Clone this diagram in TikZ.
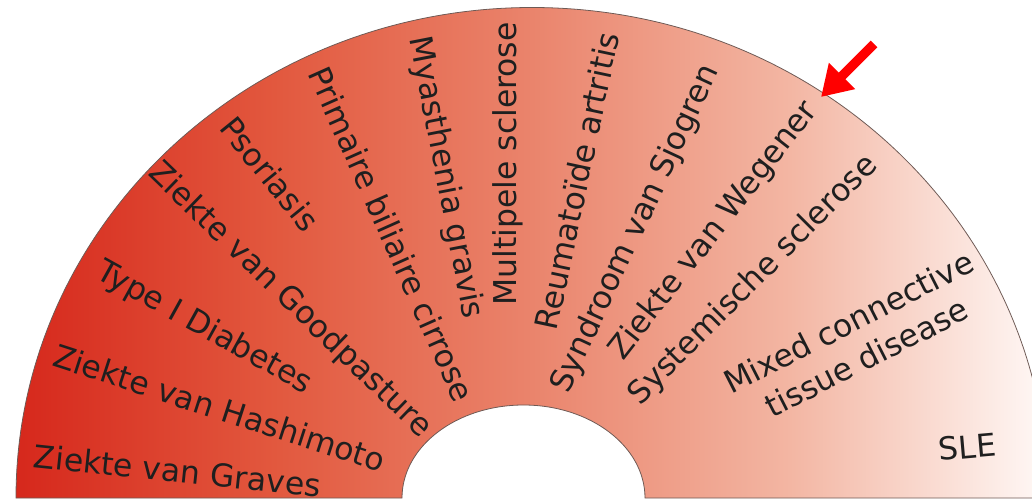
\documentclass[tikz,border=0pt]{standalone}
\usepackage{fontspec}
\setmainfont{DejaVu Sans}
\usetikzlibrary{arrows.meta}
\definecolor{AutoRed}{RGB}{214,40,28}
\definecolor{AutoRose}{RGB}{226,88,62}
\definecolor{AutoMid}{RGB}{234,132,108}
\definecolor{AutoPeach}{RGB}{243,182,163}
\definecolor{AutoWhite}{RGB}{255,249,247}
\definecolor{RimGray}{RGB}{110,90,85}
\definecolor{PointRed}{RGB}{255,0,0}
\pgfdeclarehorizontalshading{ringshade}{100bp}{color(0bp)=(AutoRed); color(25bp)=(AutoRed);
  color(37.5bp)=(AutoRose); color(50bp)=(AutoMid); color(62.5bp)=(AutoPeach);
  color(75bp)=(AutoWhite); color(100bp)=(AutoWhite)}
\tikzset{
  lab/.style={font=\fontsize{17.9}{22.5}\selectfont,text=black!88,inner sep=0pt,align=center,text height=0.73em,text depth=0pt},
  rim/.style={draw=RimGray,line width=0.45pt},
  pointer/.style={draw=PointRed,line width=5.3pt,-{Triangle[length=17pt,width=20pt]}},
}

\begin{document}
\begin{tikzpicture}[x=0.02cm,y=-0.02cm]
\useasboundingbox (0,0) rectangle (1032,501);
% half ring with the colour running from red to white
\path[rim,shading=ringshade,shading angle=0]
  (16,498) arc[start angle=180,end angle=360,x radius=516,y radius=490.5]
  -- (645,498) arc[start angle=360,end angle=180,x radius=121.5,y radius=93] -- cycle;
\begin{scope}
\clip (0,0) rectangle (1032,498);
\foreach \n/\x/\y/\a/\t in {
  graves/177/476/-6/Ziekte van Graves,
  hashimoto/218/413/-18/Ziekte van Hashimoto,
  diabetes/203/330/-29/Type I Diabetes,
  goodpasture/288/302/-44/Ziekte van Goodpasture,
  psoriasis/266/177/-51/Psoriasis,
  pbc/387/236/-66/Primaire biliaire cirrose,
  myasthenia/443/178/-79/Myasthenia gravis,
  ms/510/164/90/Multipele sclerose,
  ra/582/182/78/Reumatoïde artritis,
  sjogren/638/230/65/Syndroom van Sjogren,
  wegener/716/232/52/Ziekte van Wegener,
  ssc/755/282/45/Systemische sclerose,
  mctd/869/362/27/{Mixed connective\\tissue disease},
  sle/968/452/5/SLE}
  \node[lab,rotate=\a] (\n) at (\x,\y) {\t};
\end{scope}
\coordinate (tail) at (874,44);
\coordinate (tip) at (821,97);
\draw[pointer] (tail) -- (tip);
\end{tikzpicture}
\end{document}
